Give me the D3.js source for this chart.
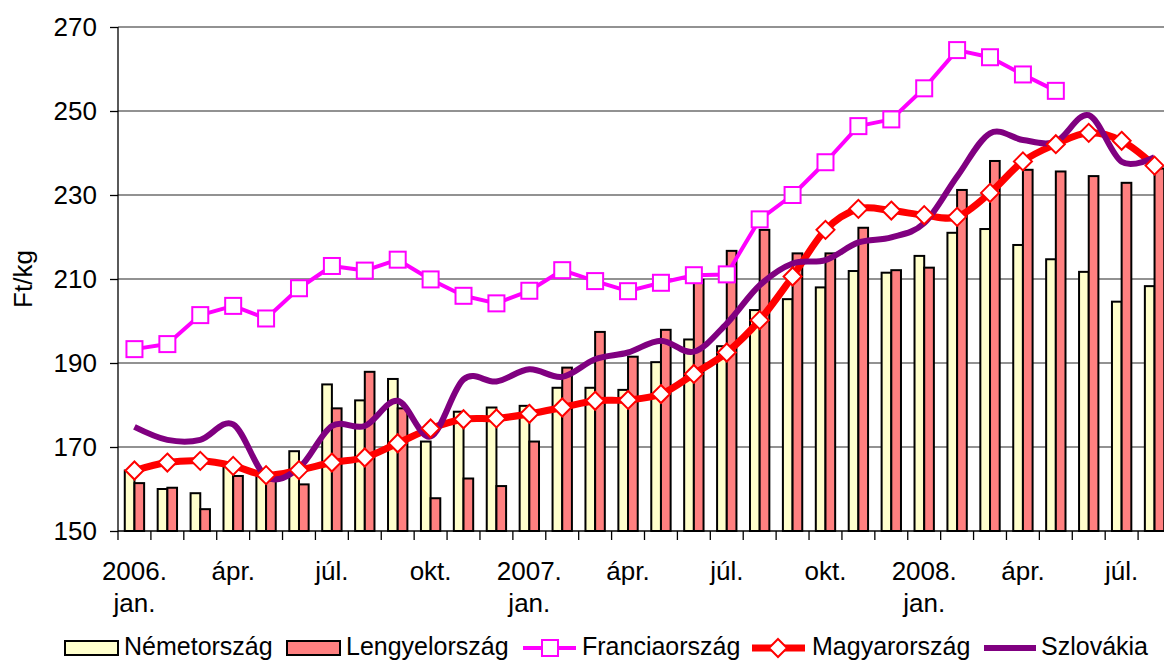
<!DOCTYPE html>
<html>
<head>
<meta charset="utf-8">
<script src="https://cdn.jsdelivr.net/npm/d3@7/dist/d3.min.js"></script>
<style>
  body { margin: 0; background: #fff; }
  svg text { font-family: Arial, "Liberation Sans", sans-serif; fill: #000; }
</style>
</head>
<body>
<div id="canvas"></div>
<script>
// months 2006 jan .. 2008 aug
var months = d3.range(32);
var tickLabels = ['2006.|jan.','','','ápr.','','','júl.','','','okt.','','',
                  '2007.|jan.','','','ápr.','','','júl.','','','okt.','','',
                  '2008.|jan.','','','ápr.','','','júl.',''];

var germany = [164.4,160.0,159.0,165.3,164.0,169.0,184.9,181.1,186.2,171.3,178.4,179.4,
               179.8,184.1,184.1,183.6,190.2,195.6,194.0,202.6,205.2,208.0,211.9,211.5,
               215.5,221.0,221.9,218.1,214.7,211.7,204.6,208.3];
var poland = [161.4,160.3,155.2,163.1,162.0,161.1,179.2,187.9,179.2,157.8,162.5,160.7,
              171.3,188.9,197.4,191.5,197.9,209.8,216.7,221.7,216.1,216.1,222.2,212.1,
              212.7,231.2,238.1,236.0,235.6,234.5,232.9,236.3];
var france = [193.3,194.5,201.4,203.6,200.6,207.8,213.1,212.0,214.6,209.9,206.0,204.2,
              207.2,212.1,209.5,207.1,209.1,210.9,211.1,224.2,230.0,237.8,246.4,248.0,
              255.4,264.5,262.8,258.7,254.8,null,null,null];
var hungary = [164.4,166.3,166.7,165.5,163.3,164.5,166.3,167.5,170.9,174.4,176.6,176.8,
               177.9,179.4,181.0,181.2,182.6,187.4,192.5,200.2,210.6,221.7,226.7,226.3,
               225.2,224.8,230.5,238.0,242.1,244.8,242.9,237.0];
var slovakia = [174.8,171.7,171.7,175.4,163.0,165.0,175.0,175.0,181.0,172.5,186.1,185.6,
                188.5,186.7,190.9,192.5,195.3,192.7,199.4,208.5,213.7,214.5,218.7,219.9,
                223.3,234.4,244.7,243.1,242.7,249.0,237.9,239.0];
var yTicks = [150,170,190,210,230,250,270];

var W = 1164, H = 661;
var m = {t:27, l:118, b:130, r:-7};   // plot runs a little past the right edge, like the source

var svg = d3.select('#canvas').append('svg')
    .attr('width', W).attr('height', H);

var x = d3.scaleBand().domain(months).range([m.l, W - m.r]).padding(0);
var bw = x.bandwidth();
var xSub = d3.scaleBand().domain(['ger','pol']).range([0, bw]).paddingInner(0).paddingOuter(0.7);
var y = d3.scaleLinear().domain([150,270]).range([H - m.b, m.t]);

// gridlines
svg.append('g').selectAll('line').data(yTicks.slice(1)).enter().append('line')
    .attr('x1', m.l).attr('x2', W)
    .attr('y1', function(d){ return y(d); }).attr('y2', function(d){ return y(d); })
    .attr('stroke', '#6e6e6e').attr('stroke-width', 1.3);

// bars
var groups = svg.append('g').selectAll('g').data(months).enter().append('g')
    .attr('transform', function(d){ return 'translate(' + x(d) + ',0)'; });
groups.append('rect')
    .attr('x', xSub('ger')).attr('width', xSub.bandwidth())
    .attr('y', function(d){ return y(germany[d]); })
    .attr('height', function(d){ return y(150) - y(germany[d]); })
    .attr('fill', '#ffffcc').attr('stroke', '#000').attr('stroke-width', 2);
groups.append('rect')
    .attr('x', xSub('pol')).attr('width', xSub.bandwidth())
    .attr('y', function(d){ return y(poland[d]); })
    .attr('height', function(d){ return y(150) - y(poland[d]); })
    .attr('fill', '#ff8080').attr('stroke', '#000').attr('stroke-width', 2);

var cx = function(d, i){ return x(i) + bw/2; };

// lines
var lineFr = d3.line().defined(function(d){ return d != null; })
    .x(cx).y(function(d){ return y(d); });
var lineSmooth = d3.line().curve(d3.curveCatmullRom.alpha(0))
    .x(cx).y(function(d){ return y(d); });

svg.append('path').datum(france).attr('d', lineFr)
    .attr('fill','none').attr('stroke','#ff00ff').attr('stroke-width',4).attr('stroke-linejoin','round');
svg.append('path').datum(hungary).attr('d', lineSmooth)
    .attr('fill','none').attr('stroke','#ff0000').attr('stroke-width',7).attr('stroke-linejoin','round');
svg.append('path').datum(slovakia).attr('d', lineSmooth)
    .attr('fill','none').attr('stroke','#800080').attr('stroke-width',6).attr('stroke-linejoin','round');

// markers
svg.append('g').selectAll('rect').data(france).enter()
    .filter(function(d){ return d != null; })
    .append('rect')
    .attr('x', function(d){ return x(france.indexOf(d)) + bw/2 - 8; })
    .attr('y', function(d){ return y(d) - 8; })
    .attr('width', 16).attr('height', 16)
    .attr('fill','#fff').attr('stroke','#ff00ff').attr('stroke-width',2);
svg.append('g').selectAll('path').data(hungary).enter().append('path')
    .attr('d', 'M0,-9L9,0L0,9L-9,0Z')
    .attr('transform', function(d, i){ return 'translate(' + cx(d, i) + ',' + y(d) + ')'; })
    .attr('fill','#fff').attr('stroke','#ff0000').attr('stroke-width',2);

// y axis
var axisY = d3.axisLeft(y).tickValues(yTicks).tickSize(8).tickPadding(13);
var gy = svg.append('g').attr('transform','translate(' + m.l + ',0)').call(axisY);
gy.select('.domain').attr('stroke','#000').attr('stroke-width',1.3).attr('d','M0,' + y(270) + 'V' + y(150));
gy.selectAll('.tick line').attr('stroke','#000').attr('stroke-width',1.3);
gy.selectAll('.tick text').style('font-size','26px').attr('font-family', null);

svg.append('text')
    .attr('transform','translate(32,' + 279 + ') rotate(-90)')
    .attr('text-anchor','middle').style('font-size','26px').text('Ft/kg');

// x axis
var y0 = y(150);
svg.append('line').attr('x1', m.l).attr('x2', W).attr('y1', y0).attr('y2', y0)
    .attr('stroke','#000').attr('stroke-width',1.3);
svg.append('g').selectAll('line').data(months.concat([32])).enter().append('line')
    .attr('x1', function(d){ return d < 32 ? x(d) : x(31) + bw; })
    .attr('x2', function(d){ return d < 32 ? x(d) : x(31) + bw; })
    .attr('y1', y0).attr('y2', y0 + 9)
    .attr('stroke','#000').attr('stroke-width',1.3);

var xl = svg.append('g').selectAll('text').data(months.filter(function(d){ return tickLabels[d]; }))
    .enter().append('text')
    .attr('text-anchor','middle').style('font-size','26px');
xl.each(function(d){
  var parts = tickLabels[d].split('|');
  var t = d3.select(this);
  parts.forEach(function(p, k){
    t.append('tspan').attr('x', x(d) + bw/2).attr('y', 580 + k*32).text(p);
  });
});

// legend
var lg = svg.append('g');
var ly = 648, lb = 655, lf = '25px';
lg.append('rect').attr('x',65).attr('y',ly-7).attr('width',53).attr('height',14)
    .attr('fill','#ffffcc').attr('stroke','#000').attr('stroke-width',2);
lg.append('text').attr('x',124).attr('y',lb).style('font-size',lf).text('Németország');
lg.append('rect').attr('x',287).attr('y',ly-7).attr('width',53).attr('height',14)
    .attr('fill','#ff8080').attr('stroke','#000').attr('stroke-width',2);
lg.append('text').attr('x',346).attr('y',lb).style('font-size',lf).text('Lengyelország');
lg.append('line').attr('x1',523).attr('x2',576).attr('y1',ly).attr('y2',ly)
    .attr('stroke','#ff00ff').attr('stroke-width',4);
lg.append('rect').attr('x',542).attr('y',ly-8).attr('width',16).attr('height',16)
    .attr('fill','#fff').attr('stroke','#ff00ff').attr('stroke-width',2);
lg.append('text').attr('x',582).attr('y',lb).style('font-size',lf).text('Franciaország');
lg.append('line').attr('x1',752).attr('x2',805).attr('y1',ly).attr('y2',ly)
    .attr('stroke','#ff0000').attr('stroke-width',7);
lg.append('path').attr('d','M0,-9L9,0L0,9L-9,0Z').attr('transform','translate(778,' + ly + ')')
    .attr('fill','#fff').attr('stroke','#ff0000').attr('stroke-width',2);
lg.append('text').attr('x',812).attr('y',lb).style('font-size',lf).text('Magyarország');
lg.append('line').attr('x1',984).attr('x2',1036).attr('y1',ly).attr('y2',ly)
    .attr('stroke','#800080').attr('stroke-width',6);
lg.append('text').attr('x',1041).attr('y',lb).style('font-size',lf).text('Szlovákia');
</script>
</body>
</html>
